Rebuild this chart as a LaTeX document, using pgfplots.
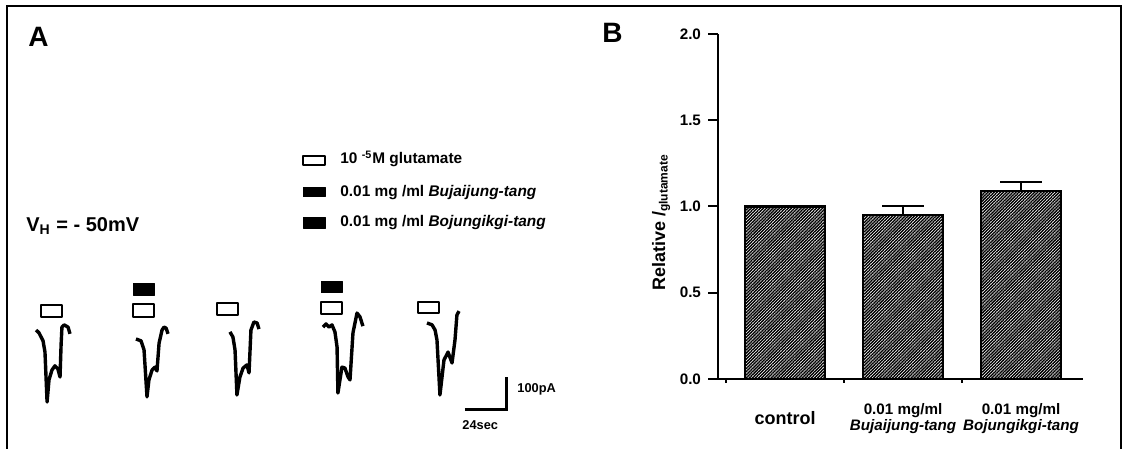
\documentclass[border=0pt]{standalone}
\usepackage{pgfplots}
\pgfplotsset{compat=1.18}
\usetikzlibrary{patterns.meta}
\usepackage{fontspec}
\setmainfont{Liberation Sans}

\newcommand{\fs}[1]{\fontsize{#1}{#1}\selectfont\bfseries}

\begin{document}
\begin{tikzpicture}
\path[use as bounding box] (0,0) rectangle (563pt,224.5pt);
% frame round the figure
\draw[line width=0.7pt] (3.5pt,0) -- (3.5pt,221.5pt) -- (560.5pt,221.5pt) -- (560.5pt,0);

% ---- panel A: current traces (x in sec, y in pA)
\begin{axis}[
  at={(0,0)}, anchor=south west,
  scale only axis, width=300pt, height=224.5pt,
  xmin=0, xmax=342.857, ymin=-371.875, ymax=1031.25,
  hide axis, clip=false,
  every axis plot/.append style={line join=round},
]
% traces
\addplot[black, line width=1.7pt] coordinates {
  (20.6,0) (22.3,-9) (24.6,-34) (25.7,-69) (26.9,-225) (28.0,-156) (29.7,-125)
  (31.4,-112) (33.1,-122) (34.3,-147) (34.9,-47) (35.4,9) (36.6,16) (38.9,9) (40.0,-12)};
\addplot[black, line width=1.7pt] coordinates {
  (77.7,-28) (80.6,-34) (82.3,-62) (84.0,-209) (85.1,-156) (86.9,-125) (88.6,-116)
  (89.7,-128) (90.9,-41) (92.6,0) (93.7,9) (94.9,6) (96.0,-12)};
\addplot[black, line width=1.7pt] coordinates {
  (131.4,-6) (133.1,-22) (134.3,-62) (135.4,-203) (137.1,-147) (138.9,-119)
  (141.1,-109) (142.3,-134) (143.4,0) (145.1,25) (146.9,22) (148.0,3)};
\addplot[black, line width=1.7pt] coordinates {
  (184.6,9) (186.3,19) (188.0,9) (189.7,16) (191.4,-6) (192.6,-53) (193.1,-197)
  (195.4,-116) (197.1,-119) (198.9,-147) (200.0,-156) (201.7,-9) (204.0,53)
  (205.7,41) (207.4,12)};
\addplot[black, line width=1.7pt] coordinates {
  (244.0,22) (246.9,16) (248.6,0) (249.7,-31) (251.4,-203) (253.7,-94) (256.0,-69)
  (258.3,-103) (260.0,-31) (261.1,47) (262.3,59)};
% application bars: glutamate (open), extracts (filled)
\addplot[black, line width=1pt] coordinates {(23.4,41) (35.4,41) (35.4,78) (23.4,78)} --cycle;
\addplot[black, line width=1pt] coordinates {(76.0,41) (88.0,41) (88.0,81) (76.0,81)} --cycle;
\addplot[black, fill=black] coordinates {(76.0,109) (88.0,109) (88.0,147) (76.0,147)} --cycle;
\addplot[black, line width=1pt] coordinates {(124.0,47) (136.0,47) (136.0,84) (124.0,84)} --cycle;
\addplot[black, line width=1pt] coordinates {(183.4,50) (195.4,50) (195.4,87) (183.4,87)} --cycle;
\addplot[black, fill=black] coordinates {(183.4,116) (195.4,116) (195.4,153) (183.4,153)} --cycle;
\addplot[black, line width=1pt] coordinates {(238.9,53) (250.9,53) (250.9,87) (238.9,87)} --cycle;
% key symbols
\addplot[black, line width=1pt] coordinates {(173.1,516) (185.7,516) (185.7,544) (173.1,544)} --cycle;
\addplot[black, fill=black] coordinates {(173.1,416) (185.7,416) (185.7,447) (173.1,447)} --cycle;
\addplot[black, fill=black] coordinates {(173.1,319) (185.7,319) (185.7,353) (173.1,353)} --cycle;
% scale bar 24 sec / 100 pA
\addplot[black, line width=1.5pt, line join=miter] coordinates {(265.7,-247) (289.7,-247) (289.7,-147)};
\end{axis}

\node[anchor=base west, inner sep=0, font=\fs{14}] at (14pt,201pt) {A};
\node[anchor=base west, inner sep=0, font=\fs{14}] at (301pt,203pt) {B};
\node[anchor=base west, inner sep=0, font=\fs{10}] at (13pt,108.5pt) {V\textsubscript{H} = - 50mV};
\node[anchor=base west, inner sep=0, font=\fs{7.7}] at (170pt,142.5pt) {10 \textsuperscript{-5}M glutamate};
\node[anchor=base west, inner sep=0, font=\fs{7.7}] at (170pt,126pt) {0.01 mg /ml \textit{Bujaijung-tang}};
\node[anchor=base west, inner sep=0, font=\fs{7.7}] at (170pt,111pt) {0.01 mg /ml \textit{Bojungikgi-tang}};
\node[anchor=base west, inner sep=0, font=\fs{6.4}] at (258.5pt,28pt) {100pA};
\node[anchor=base west, inner sep=0, font=\fs{6.4}] at (231pt,9.5pt) {24sec};

% ---- panel B: relative glutamate current
\begin{axis}[
  at={(359pt,35pt)}, anchor=south west,
  scale only axis, width=182.5pt, height=172.5pt,
  xmin=0.432, xmax=3.525, ymin=0, ymax=2,
  axis lines*=left, axis line style={-, line width=1pt},
  tick align=outside, major tick length=5pt, minor tick length=2pt,
  tick style={black, line width=1pt},
  ytick={0,0.5,1,1.5,2},
  yticklabel style={font=\fs{7.6}, /pgf/number format/.cd, fixed, fixed zerofill, precision=1, assume math mode=true},
  xtick={1,2,3}, minor xtick={0.5,1.5,2.5},
  major x tick style={draw=none},
  xticklabels={{\fontsize{9}{10}\selectfont\raisebox{1.5pt}{control}},
    {0.01 mg/ml\\[-2pt]\textit{Bujaijung-tang}},
    {0.01 mg/ml\\[-2pt]\textit{Bojungikgi-tang}}},
  xticklabel style={font=\fontsize{7.6}{10}\selectfont\bfseries, align=center, anchor=center, yshift=-15pt},
  ylabel={Relative /\textsubscript{glutamate}},
  ylabel style={font=\fs{9}, yshift=-2pt, xshift=-8pt},
  ybar, bar width=40pt,
]
\addplot[draw=black, line width=1.3pt,
  pattern={Lines[angle=45, distance=1.1pt, line width=0.72pt]},
  error bars/.cd, y dir=plus, y explicit,
  error bar style={line width=1pt, black},
  error mark options={rotate=90, line width=1pt, mark size=10.5pt}]
  coordinates {(1,1.00) +- (0,0) (2,0.95) +- (0,0.05) (3,1.09) +- (0,0.05)};
\end{axis}
\end{tikzpicture}
\end{document}
